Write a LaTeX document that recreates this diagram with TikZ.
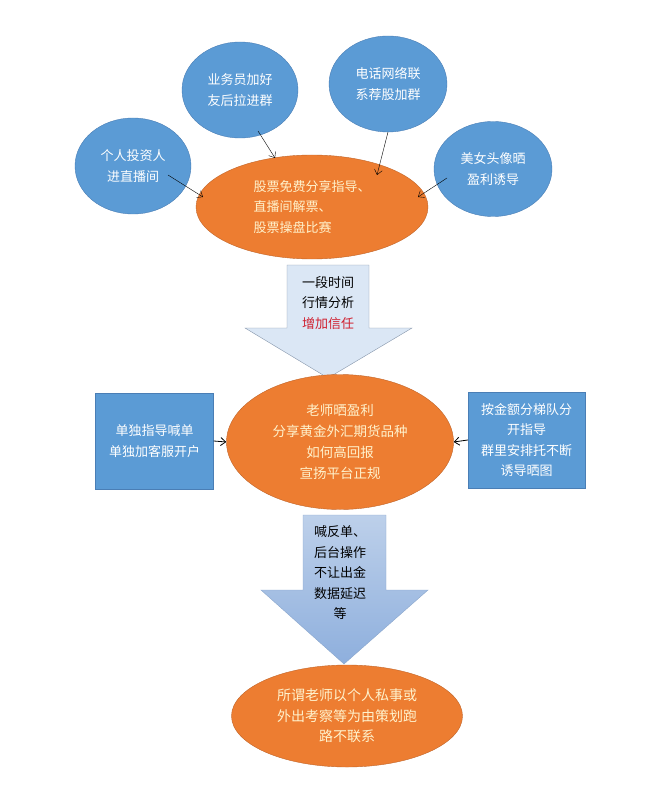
\documentclass[tikz,border=0pt]{standalone}
\usepackage{fontspec}
\setmainfont{Noto Sans CJK SC}
\usepackage{xcolor}
\usetikzlibrary{shapes.geometric,calc,arrows.meta}
\definecolor{bubblefill}{HTML}{5B9BD5}
\definecolor{bubbleline}{HTML}{4A7EB5}
\definecolor{orangefill}{HTML}{ED7D31}
\definecolor{orangeline}{HTML}{C0652A}
\definecolor{orangetext}{HTML}{FFF2CC}
\definecolor{paleblue}{HTML}{DBE7F5}
\definecolor{paleline}{HTML}{8595AA}
\definecolor{trustred}{HTML}{D0202F}
\definecolor{shadetop}{HTML}{BDD0EA}
\definecolor{shadebot}{HTML}{8EAFDD}
\definecolor{shadeline}{HTML}{8AA6CC}

\begin{document}
\begin{tikzpicture}[x=1pt,y=-1pt,
	>={Straight Barb[length=5pt,width=8pt]},
	every node/.style={font=\fontsize{13}{20.5}\selectfont},
	bubble/.style={ellipse, fill=bubblefill, draw=bubbleline, text=white, align=center, inner sep=0pt},
	hub/.style={ellipse, fill=orangefill, draw=orangeline, text=orangetext, inner sep=0pt},
	sidebox/.style={rectangle, fill=bubblefill, draw=bubbleline, text=white, align=center, minimum width=118pt, minimum height=96pt}]

\useasboundingbox (0,0) rectangle (670,794);

\node[bubble, minimum width=116pt, minimum height=96pt] (investor) at (133,166) {个人投资人\\进直播间};
\node[bubble, minimum width=116pt, minimum height=96pt] (clerk) at (240,90) {业务员加好\\友后拉进群};
\node[bubble, minimum width=118pt, minimum height=96pt] (phone) at (388,84) {电话网络联\\系荐股加群};
\node[bubble, minimum width=118pt, minimum height=95pt] (beauty) at (493,169) {美女头像晒\\盈利诱导};

\node[hub, align=left, minimum width=232pt, minimum height=104pt] (share) at (312,207) {股票免费分享指导、\\直播间解票、\\股票操盘比赛};

\draw[->] ($(investor)+(35,9)$) -- ($(share)+(-109,-10)$);
\draw[->] ($(clerk)+(18,41)$) -- ($(share)+(-37,-49)$);
\draw[->] ($(phone)+(0,48)$) -- ($(share)+(65,-32)$);
\draw[->] ($(beauty)+(-46,9)$) -- ($(share)+(106,-10)$);

\filldraw[fill=paleblue, draw=paleline] (287,265) -- (369,265) -- (369,328) -- (412,328) -- (328,378) -- (245,328) -- (287,328) -- cycle;
\node[align=center] (trust) at (328,303) {一段时间\\行情分析\\\textcolor{trustred}{增加信任}};

\node[hub, align=center, font=\fontsize{13.5}{21}\selectfont, minimum width=227pt, minimum height=135pt] (teacher) at (340,442) {老师晒盈利\\分享黄金外汇期货品种\\如何高回报\\宣扬平台正规};

\node[sidebox] (single) at (154.5,441) {单独指导喊单\\单独加客服开户};
\node[sidebox, minimum width=117pt] (group) at (526.5,440) {按金额分梯队分\\开指导\\群里安排托不断\\诱导晒图};

\draw[->, thick] (single.east) -- (teacher.west);
\draw[->, thick] (group.west) -- (teacher.east);

\shadedraw[top color=shadetop, bottom color=shadebot, draw=shadeline] (303,515) -- (386,515) -- (386,590) -- (428,590) -- (344,664) -- (261,590) -- (303,590) -- cycle;
\node[align=center] (cheat) at (340,573) {喊反单、\\后台操作\\不让出金\\数据延迟\\等};

\node[hub, align=center, font=\fontsize{14}{20.5}\selectfont, minimum width=231pt, minimum height=102pt] (vanish) at (347,716) {所谓老师以个人私事或\\外出考察等为由策划跑\\路不联系};

\end{tikzpicture}
\end{document}
